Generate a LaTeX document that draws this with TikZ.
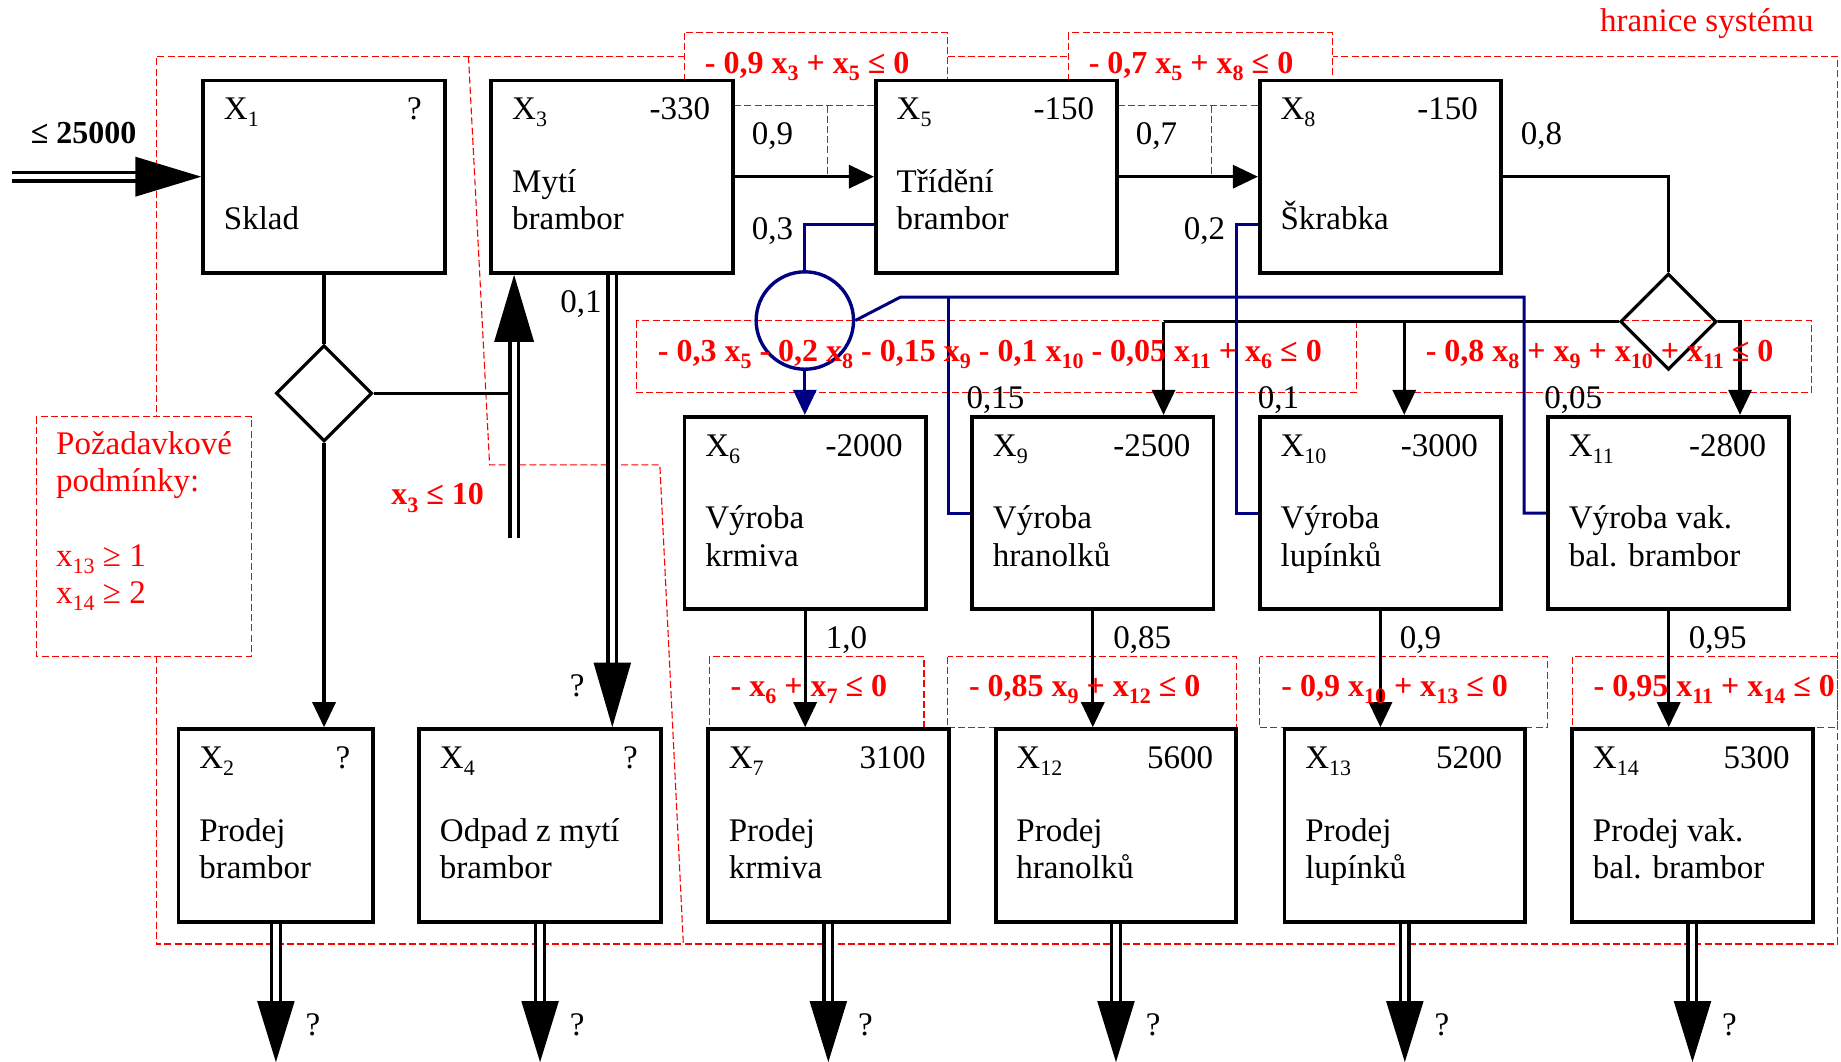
\documentclass[tikz,border=0pt]{standalone}
\usepackage{fontspec}
\setmainfont{Liberation Serif}
\usetikzlibrary{arrows.meta,calc,fit,shapes.geometric}
\definecolor{flow}{RGB}{0,0,128}
% lowered, smaller index digits
\newcommand\sbx[1]{\raisebox{-3.6pt}{\fontsize{11}{11}\selectfont #1}}

\tikzset{
  ubox/.style={draw, line width=1.9pt, fill=white, inner sep=0pt},
  lbl/.style={inner sep=0pt, font=\fontsize{16.5}{19}\selectfont},
  con/.style={inner sep=0pt, text=red, font=\fontsize{16}{19}\selectfont\bfseries},
  req/.style={inner sep=0pt, text=red, font=\fontsize{16.5}{19}\selectfont},
  dsh/.style={draw=red, line width=0.55pt, dash pattern=on 3.5pt off 1.6pt},
  arr/.style={line width=1.6pt, -{Triangle[length=12.5pt,width=11.5pt]}},
  ln/.style={line width=1.6pt},
  bl/.style={line width=1.5pt, draw=flow},
  blarr/.style={line width=1.5pt, draw=flow, -{Triangle[length=12.5pt,width=11.5pt]}},
  dline/.style={double, line width=1.7pt, double distance=2.6pt},
  dia/.style={draw, diamond, aspect=1, line width=1.6pt, minimum width=48.1pt,
              minimum height=48.1pt, inner sep=0pt},
}

% process box: name, left, top, width, title, value, line 1, line 2
\newcommand\procbox[8]{%
  \node[ubox, fit={(#2,#3) (#2+#4,#3+164)}] (#1) {};
  \node[lbl, anchor=base west] (#1t) at ($(#1.north west)+(19,35)$) {#5};
  \node[lbl, anchor=base east] (#1v) at ($(#1.north east)+(-21,35)$) {#6};
  \node[lbl, anchor=base west] (#1a) at ($(#1.north west)+(19,97)$) {#7};
  \node[lbl, anchor=base west] (#1b) at ($(#1.north west)+(19,129)$) {#8};
}

\begin{document}
\begin{tikzpicture}[x=0.58705pt, y=-0.58705pt]
\useasboundingbox (0,0) rectangle (1568,904);

% ---- system boundary and constraint frames (red, dashed)
\draw[dsh] (583,48) -- (133,48) -- (133,355);
\draw[dsh] (133,559) -- (133,804) -- (1565,804) -- (1565,48) -- (1135,48);
\draw[dsh] (807,48) -- (910,48);
\draw[dsh] (399,48) -- (417,396) -- (562,396) -- (582,804);
\draw[dsh] (583,28) rectangle (807,90);
\draw[dsh] (705,90) -- (705,149);
\draw[dsh] (910,28) rectangle (1135,90);
\draw[dsh] (1032,90) -- (1032,149);
\draw[dsh] (31,355) rectangle (214,559);
\draw[dsh] (542,273) rectangle (1155,334.5);
\draw[dsh] (1196,273) rectangle (1543,334.5);
\draw[dsh] (604,559.5) rectangle (787,620);
\draw[dsh] (807,559.5) rectangle (1053,620);
\draw[dsh] (1073,559.5) rectangle (1318,620);
\draw[dsh] (1339,559.5) rectangle (1565,620);

% ---- process boxes
\procbox{X1}{173}{68.5}{206}{X\sbx{1}}{?}{}{Sklad}
\procbox{X3}{418.5}{68.5}{206}{X\sbx{3}}{-330}{Mytí}{brambor}
\procbox{X5}{746}{68.5}{205.5}{X\sbx{5}}{-150}{Třídění}{brambor}
\procbox{X8}{1073}{68.5}{205.5}{X\sbx{8}}{-150}{}{Škrabka}
\procbox{X6}{583}{355}{205.5}{X\sbx{6}}{-2000}{Výroba}{krmiva}
\procbox{X9}{828}{355}{205.5}{X\sbx{9}}{-2500}{Výroba}{hranolků}
\procbox{X10}{1073}{355}{205.5}{X\sbx{10}}{-3000}{Výroba}{lupínků}
\procbox{X11}{1318.5}{355}{205.5}{X\sbx{11}}{-2800}{Výroba vak.}{bal. brambor}
\procbox{X2}{152}{621}{166}{X\sbx{2}}{?}{Prodej}{brambor}
\procbox{X4}{357}{621}{206}{X\sbx{4}}{?}{Odpad z mytí}{brambor}
\procbox{X7}{603}{621}{205}{X\sbx{7}}{3100}{Prodej}{krmiva}
\procbox{X12}{848}{621}{205}{X\sbx{12}}{5600}{Prodej}{hranolků}
\procbox{X13}{1094}{621}{205}{X\sbx{13}}{5200}{Prodej}{lupínků}
\procbox{X14}{1339}{621}{205}{X\sbx{14}}{5300}{Prodej vak.}{bal. brambor}

% ---- branch points
\node[dia] (d1) at (276,335) {};
\node[dia] (d2) at (1421,274) {};
\node[draw=flow, circle, line width=1.7pt, minimum size=48.7pt, inner sep=0pt] (mix) at (685.5,273) {};

% ---- main flow
\draw[arr] (X3.east) -- (X5.west);
\draw[arr] (X5.east) -- (X8.west);
\draw[ln] (X8.east) -| (d2.north);
\draw[ln] (X1.south) -- (d1.north);
\draw[arr] (d1.south) -- (d1.south |- X2.north);
\coordinate (j3) at (436,335);
\draw[ln] (d1.east) -- (j3);

\coordinate (k9) at (991,274);
\coordinate (k10) at (1196,274);
\coordinate (k11) at (1482,274);
\draw[ln] (d2.west) -- (k9);
\draw[arr] (k9) -- (k9 |- X9.north);
\draw[arr] (k10) -- (k10 |- X10.north);
\draw[arr] (d2.east) -- (k11) -- (k11 |- X11.north);

\draw[arr] (X6.south) -- (X6.south |- X7.north);
\draw[arr] (X9.south) -- (X9.south |- X12.north);
\draw[arr] (X10.south) -- (X10.south |- X13.north);
\draw[arr] (X11.south) -- (X11.south |- X14.north);

% ---- by-products to feed (blue)
\draw[bl] ($(X5.west)+(0,41)$) -| (mix.north);
\draw[blarr] (mix.south) -- (mix.south |- X6.north);
\coordinate (b1) at (767,253);
\coordinate (b2) at (1298,253);
\coordinate (b3) at (808,253);
\coordinate (b4) at (1053,191.5);
\draw[bl] (mix.east) -- (b1) -- (b2) |- (X11.west);
\draw[bl] (b3) |- (X9.west);
\draw[bl] ($(X8.west)+(0,41)$) -- (b4) |- (X10.west);

% ---- double (material) flows with large heads
\coordinate (in0) at (10,150.5);
\draw[dline] (in0) -- ($(X1.west)+(-50,0)$);
\fill (X1.west) -- ++(-56,-17) -- ++(0,34) -- cycle;

\coordinate (rtip) at ($(X3.south west)+(21,0)$);
\coordinate (r0) at ($(rtip)+(0,224.5)$);
\draw[dline] (r0) -- ($(rtip)+(0,50)$);
\fill (rtip) -- ++(-17,57) -- ++(34,0) -- cycle;

\coordinate (wtip) at (X3.south |- X4.north);
\draw[dline] (X3.south) -- ($(wtip)+(0,-50)$);
\fill (wtip) -- ++(-16,-55) -- ++(32,0) -- cycle;

\foreach \b in {X2,X4,X7,X12,X13,X14} {
  \coordinate (o\b) at ($(\b.south)+(0,118)$);
  \draw[dline] (\b.south) -- ($(o\b)+(0,-45)$);
  \fill (o\b) -- ++(-16,-52) -- ++(32,0) -- cycle;
  \node[lbl, anchor=base west] (q\b) at ($(\b.south)+(25,95)$) {?};
}

% ---- coefficients
\node[lbl, anchor=base west] (f35) at (640,123) {0,9};
\node[lbl, anchor=base west] (f58) at (967,123) {0,7};
\node[lbl, anchor=base west] (f8) at (1295,123) {0,8};
\node[lbl, anchor=base west] (f56) at (640,204) {0,3};
\node[lbl, anchor=base west] (f86) at (1008,204) {0,2};
\node[lbl, anchor=base west] (f34) at (477,266) {0,1};
\node[lbl, anchor=base west] (f96) at (823,348) {0,15};
\node[lbl, anchor=base west] (f106) at (1071,348) {0,1};
\node[lbl, anchor=base west] (f116) at (1315,348) {0,05};
\node[lbl, anchor=base west] (f67) at (703,552) {1,0};
\node[lbl, anchor=base west] (f912) at (948,552) {0,85};
\node[lbl, anchor=base west] (f1013) at (1192,552) {0,9};
\node[lbl, anchor=base west] (f1114) at (1438,552) {0,95};
\node[lbl, anchor=base west] (q4) at (485,593) {?};

% ---- limits and balance constraints
\node[lbl, font=\fontsize{16}{19}\selectfont\bfseries, anchor=base west] (cap) at (26,122.6) {≤ 25000};
\node[con, anchor=base west] (lim3) at (333,430) {x\sbx{3} ≤ 10};
\node[con, anchor=base west] (c1) at (600,62.5) {- 0,9 x\sbx{3} + x\sbx{5} ≤ 0};
\node[con, anchor=base west] (c2) at (927,62.5) {- 0,7 x\sbx{5} + x\sbx{8} ≤ 0};
\node[con, anchor=base west] (c3) at (560,308) {- 0,3 x\sbx{5} - 0,2 x\sbx{8} - 0,15 x\sbx{9} - 0,1 x\sbx{10} - 0,05 x\sbx{11} + x\sbx{6} ≤ 0};
\node[con, anchor=base west] (c4) at (1214,308) {- 0,8 x\sbx{8} + x\sbx{9} + x\sbx{10} + x\sbx{11} ≤ 0};
\node[con, anchor=base west] (c5) at (622,593) {- x\sbx{6} + x\sbx{7} ≤ 0};
\node[con, anchor=base west] (c6) at (825,593) {- 0,85 x\sbx{9} + x\sbx{12} ≤ 0};
\node[con, anchor=base west] (c7) at (1091,593) {- 0,9 x\sbx{10} + x\sbx{13} ≤ 0};
\node[con, anchor=base west] (c8) at (1357,593) {- 0,95 x\sbx{11} + x\sbx{14} ≤ 0};

\node[req, anchor=base east] (sys) at (1545,27) {hranice systému};
\node[req, anchor=base west] (r1) at (47.5,387.5) {Požadavkové};
\node[req, anchor=base west] (r2) at (47.5,419) {podmínky:};
\node[req, anchor=base west] (r3) at (47.5,482.5) {x\sbx{13} ≥ 1};
\node[req, anchor=base west] (r4) at (47.5,514) {x\sbx{14} ≥ 2};
\end{tikzpicture}
\end{document}
